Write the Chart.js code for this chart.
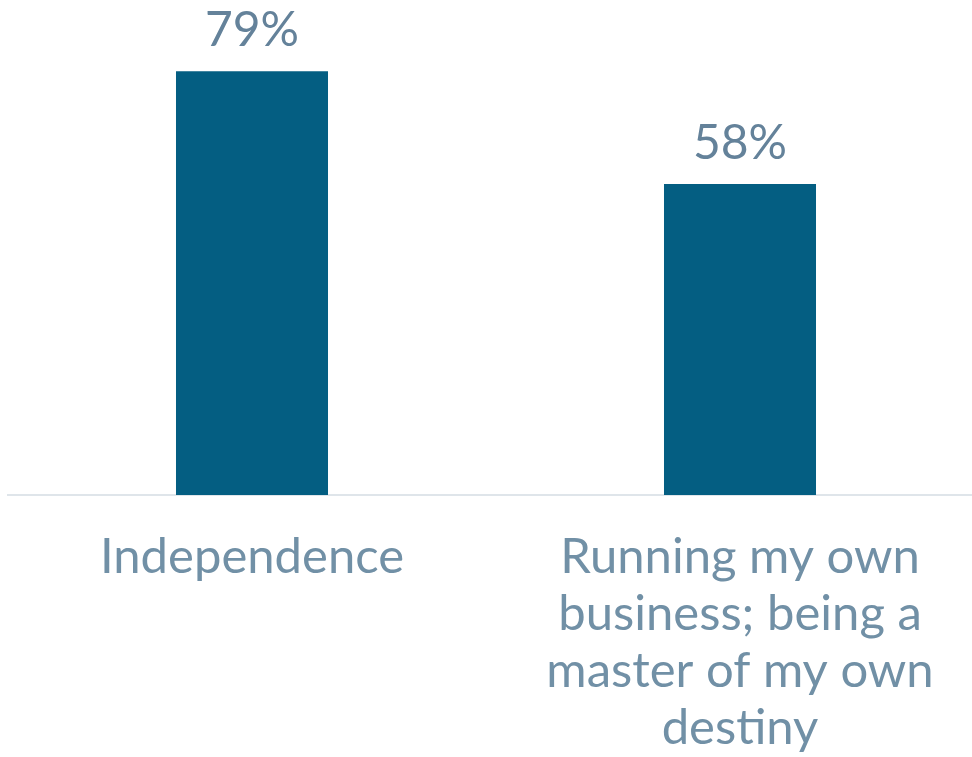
<!DOCTYPE html>
<html>
<head>
<meta charset="utf-8">
<script src="https://cdn.jsdelivr.net/npm/chart.js@4"></script>
<style>
  html, body { margin: 0; padding: 0; background: #fff; overflow: hidden; }
  #wrap { width: 984px; height: 757px; }
</style>
</head>
<body>
<div id="wrap"><canvas id="chart"></canvas></div>
<script>
const categories = [
  ['Independence'],
  ['Running my own', 'business; being a', 'master of my own', 'destiny']
];
const shares = [79, 58];
const FONT = 'Lato, "Open Sans", sans-serif';

// percent labels above each bar
const valueLabels = {
  id: 'valueLabels',
  afterDatasetsDraw(chart) {
    const ctx = chart.ctx;
    const meta = chart.getDatasetMeta(0);
    ctx.save();
    ctx.font = '48px ' + FONT;
    ctx.fillStyle = '#64829a';
    ctx.textAlign = 'center';
    ctx.textBaseline = 'alphabetic';
    meta.data.forEach((bar, i) => {
      ctx.fillText(shares[i] + '%', bar.x, bar.y - 25);
    });
    ctx.restore();
  }
};

new Chart(document.getElementById('chart'), {
  type: 'bar',
  data: {
    labels: categories,
    datasets: [{
      data: shares,
      backgroundColor: '#045e82',
      barPercentage: 0.3115,
      categoryPercentage: 1
    }]
  },
  options: {
    responsive: true,
    maintainAspectRatio: false,
    animation: false,
    layout: { padding: { left: 8, top: 66, right: 0, bottom: 0 } },
    plugins: { legend: { display: false }, tooltip: { enabled: false } },
    scales: {
      x: {
        grid: { display: false, drawTicks: false },
        border: { display: true, color: '#dfe5ea', width: 2 },
        ticks: {
          color: '#7190a6',
          font: { family: FONT, size: 49, lineHeight: 1.163 },
          padding: 34,
          maxRotation: 0,
          autoSkip: false
        },
        afterFit(scale) { scale.height = 262; }
      },
      y: {
        display: false,
        min: 0,
        max: 80
      }
    }
  },
  plugins: [valueLabels]
});
</script>
</body>
</html>
